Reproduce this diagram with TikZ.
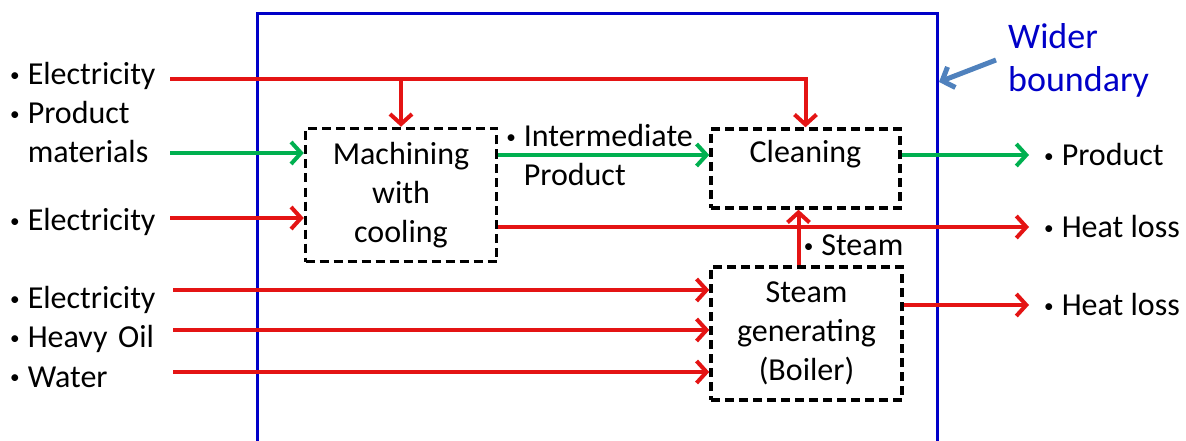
\documentclass[tikz,border=0pt]{standalone}
\usepackage{fontspec}
\setmainfont{Carlito}
\usepackage{xcolor}
\usepackage{graphicx}
\usetikzlibrary{arrows.meta,positioning}
\definecolor{flowred}{RGB}{228,20,20}
\definecolor{flowgreen}{RGB}{0,176,80}
\definecolor{bndblue}{RGB}{0,0,200}
\definecolor{ptrblue}{RGB}{79,129,189}
\newcommand{\itm}{\raisebox{0.1em}{\scalebox{0.6}{•}}\hspace{0.25em}}

\begin{document}
\begin{tikzpicture}[x=1pt,y=-1pt,
    every node/.style={font=\fontsize{32}{39}\selectfont},
    procbox/.style={draw,line width=3.5pt,dash pattern=on 9pt off 5pt,align=center,inner sep=0pt},
    inlabel/.style={anchor=west,text width=160pt,align=left,inner sep=0pt},
    outlabel/.style={anchor=west,inner xsep=15pt,inner ysep=0pt},
    redflow/.style={flowred,line width=4pt,-{Straight Barb[length=10pt,width=22pt]}},
    greenflow/.style={flowgreen,line width=4pt,-{Straight Barb[length=10pt,width=22pt]}}]
    \useasboundingbox (0,0) rectangle (1186,441);

    % wider boundary
    \draw[bndblue,line width=3pt] (257,441) |- (937,14) -- (937,441);
    \node[anchor=west,align=left,text=bndblue,inner xsep=6pt,font=\fontsize{36}{43}\selectfont] (wb) at (1002,60) {Wider\\boundary};
    \coordinate (bnd) at (939,82);
    \draw[ptrblue,line width=5pt,-{Straight Barb[length=10pt,width=22pt]}] ([xshift=-6pt]wb.west) -- (bnd);

    % processes
    \node[procbox,minimum width=191,minimum height=133] (mach) at (401,195) {Machining\\with\\cooling};
    \node[procbox,minimum width=189,minimum height=79,
          label={[anchor=north,yshift=-9pt]north:Cleaning}] (clean) at (805.5,168.5) {};
    \node[procbox,minimum width=191,minimum height=133] (boil) at (806.5,333.5) {Steam\\generating\\(Boiler)};

    % inputs
    \node[inlabel] (in1) at (10,76) {\itm Electricity};
    \node[inlabel] (in2) at (10,132) {\itm Product\\\hphantom{\itm}materials};
    \node[inlabel] (in3) at (10,222) {\itm Electricity};
    \node[inlabel] (in4) at (10,300) {\itm Electricity};
    \node[inlabel] (in5) at (10,339) {\itm Heavy Oil};
    \node[inlabel] (in6) at (10,377) {\itm Water};

    % outputs
    \node[outlabel] (prod) at (1029,155) {\itm Product};
    \node[outlabel] (hl1) at (1029,227) {\itm Heat loss};
    \node[outlabel] (hl2) at (1029,305) {\itm Heat loss};

    \path ([yshift=-3pt]in1.east) coordinate (e1);
    \path ([yshift=-21pt]in2.east) coordinate (pm);
    \path ([yshift=4pt]in3.east) coordinate (e2);
    \path ([yshift=10pt,xshift=3pt]in4.east) coordinate (e3);
    \path ([yshift=9pt,xshift=3pt]in5.east) coordinate (e4);
    \path ([yshift=5pt,xshift=3pt]in6.east) coordinate (e5);
    \path ([yshift=13.5pt]clean.west) coordinate (ip);

    \draw[redflow] (e1) -| (clean.north);
    \draw[redflow] (e1 -| mach.north) -- (mach.north);
    \draw[greenflow] (pm) -- (pm -| mach.west);
    \draw[redflow] (e2) -- (e2 -| mach.west);
    \draw[greenflow] (mach.east |- ip) -- (ip)
        node[pos=0,anchor=west,align=left,inner xsep=6pt,text=black] {\itm Intermediate\\\hphantom{\itm}Product};
    \draw[greenflow] (clean.east |- prod.west) -- (prod.west);
    \draw[redflow] (mach.east |- hl1.west) -- (hl1.west);
    \draw[redflow] ([xshift=-8pt]boil.north) -- ([xshift=-7pt]clean.south)
        node[pos=0.36,right,text=black] {\itm Steam};
    \draw[redflow] (e3) -- (e3 -| boil.west);
    \draw[redflow] (e4) -- (e4 -| boil.west);
    \draw[redflow] (e5) -- (e5 -| boil.west);
    \draw[redflow] (boil.east |- hl2.west) -- (hl2.west);
\end{tikzpicture}
\end{document}
